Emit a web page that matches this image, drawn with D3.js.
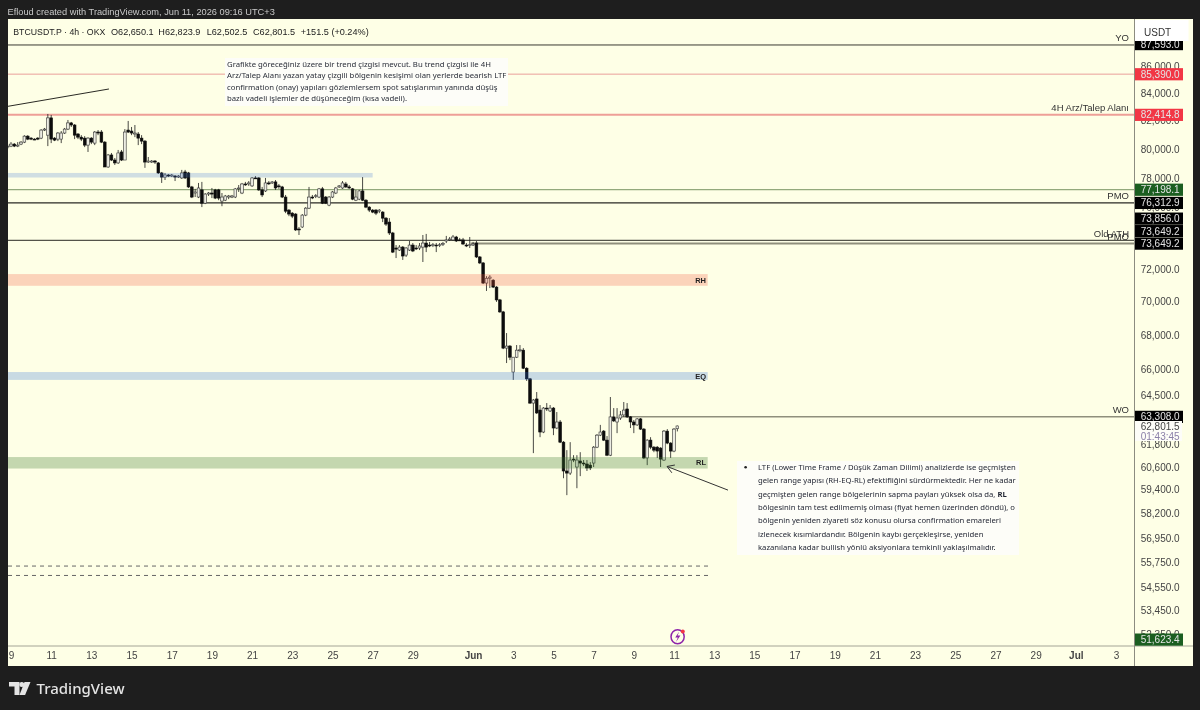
<!DOCTYPE html>
<html><head><meta charset="utf-8">
<script src="https://cdn.jsdelivr.net/npm/d3@7/dist/d3.min.js"></script>
<style>
html,body{margin:0;padding:0;background:#1e1e1e;overflow:hidden}
svg{display:block;filter:blur(0.3px)}
text{font-family:"Liberation Sans",Arial,sans-serif}
</style></head><body><svg id="c" width="1200" height="710"></svg>
<script>
const opens=[80120,80190,80330,80190,80330,80470,80890,80750,80680,80750,80750,81320,80960,82190,80750,80680,80680,81110,81390,81830,81680,81040,80820,80750,80260,80750,80400,81180,81180,80470,78740,79570,79220,79020,79780,79220,81320,81250,81040,81040,80750,80540,79080,79080,79150,79020,78330,78050,78190,78120,78120,78050,77990,78400,78330,77380,76970,76700,77180,76290,76900,76970,77180,77180,76430,76490,76700,76700,76700,77250,76970,77580,77580,77450,77990,77990,77180,77110,77650,77650,77720,77450,77380,76700,75830,75630,75570,74590,74720,75500,75960,76700,76770,76700,77250,76700,76160,76700,76970,77380,77310,77580,77380,77250,76490,76560,77110,76490,76030,75830,75830,75760,75700,75300,75040,74330,73360,73230,73420,72910,73230,73550,73360,73360,73420,73680,73550,73550,73550,73550,73620,73810,73880,73880,74070,73880,73880,73550,73550,73550,73680,72790,72410,71150,71450,71330,70900,70110,69380,67220,67340,65830,66690,67100,67100,66050,65440,64070,64300,63680,62470,63790,63630,63790,62690,63020,61920,60380,60270,61010,60590,60910,60800,60750,60690,60800,61650,62300,62520,62030,61220,63300,63020,63240,63410,63740,63300,63020,62860,63190,62630,61070,62030,61650,61650,61600,60960,62520,61870,61440,62650.1];
const highs=[80330,80470,80400,80470,80540,80960,80960,80820,80750,80820,81390,81470,82470,82400,80820,81180,81250,81470,82040,81900,81750,81110,80960,80890,80820,80820,81250,81320,81320,80540,79640,79710,79360,79920,79920,81390,81970,81540,81680,81180,80960,80610,79430,79220,79220,79080,78400,78330,78260,78260,78190,78190,78540,78540,78400,77450,77250,77650,77720,76970,77040,77310,77250,77250,76970,76840,76840,76840,77310,77510,77650,77720,77780,78050,78120,78050,77380,77990,77780,77780,77850,77580,77450,76840,75900,75700,75630,74720,75570,76030,77380,76840,76900,77310,77380,76770,76770,77110,77380,77510,77780,77720,77510,77310,77180,77180,78050,76560,76090,75900,75900,75900,75760,75370,75300,74400,73550,73550,73490,73420,73810,73680,73550,73680,74200,74270,73750,73680,73680,73680,73750,74140,74070,74200,74140,74010,74010,73680,74070,73750,73810,72850,72470,71580,71640,71390,70960,70170,69440,68110,67400,66690,67400,67400,67220,66110,65490,64300,64690,63960,63850,64070,63960,63850,63570,63130,61980,61490,61920,61220,61220,61380,60960,60960,60850,61710,62360,62860,62580,62250,64410,63790,63790,63630,64130,64070,63350,63130,63240,63240,62690,62080,62190,61710,61710,61650,62580,62630,61920,62690,62823.9];
const lows=[79990,80120,80120,80120,80260,80400,80610,80610,80610,80610,80680,81250,80190,80400,80540,80540,80400,81040,81320,81540,80680,80680,80540,80120,79780,80330,80260,80960,80400,78740,78680,79150,78880,78950,79150,79220,81110,80960,80820,80260,80330,78680,79020,79020,78950,78260,77650,77850,78050,78050,77780,77990,77920,77920,77310,76630,76700,76630,76030,76230,76770,76630,76560,76490,76090,76430,76560,76630,76630,77040,76900,77450,77450,77380,77920,77110,76700,77040,77510,77580,77180,77250,76630,75630,75430,75300,74460,74200,74660,75430,75900,76560,76630,76630,76230,76230,76090,76630,76900,77310,77250,77310,77250,76490,76430,76490,76430,75960,75700,75630,75500,75630,75040,74790,74200,73040,72720,73170,72600,72790,73170,73100,73230,73230,72470,73100,73420,73420,73100,73420,73490,73680,73810,73810,73750,73810,73550,73420,73360,73490,72720,72340,71090,70660,70840,70840,69990,69320,67160,66350,66520,65380,66640,66980,66000,65320,64020,61330,63460,62190,62410,63630,63570,62300,62630,61870,60000,59120,60170,60850,59480,60110,60640,60380,60430,60590,61600,62250,61980,61170,61170,63020,62410,63130,63300,63240,62690,62410,62800,62580,61010,60690,61540,61380,61070,60590,60910,61810,61070,61380,62502.5];
const closes=[80190,80330,80190,80260,80470,80890,80680,80680,80650,80680,81320,81390,82190,80680,80610,81110,81110,81390,81830,81680,80960,80820,80680,80260,80750,80470,81180,81110,80470,78740,79570,79220,79020,79710,79220,81180,81180,81110,81110,80750,80540,79080,79150,79150,79080,78330,78050,78190,78120,78190,78050,78120,78330,77990,77380,76700,77040,77310,76290,76900,76970,76900,76630,76630,76700,76770,76770,76770,77250,77310,77580,77560,77650,77990,77950,77180,76840,77650,77630,77720,77310,77430,76700,75760,75570,75430,74530,74530,75500,75960,76700,76680,76790,77250,76290,76290,76700,77040,77310,77450,77650,77380,77310,76560,76700,77110,76490,76030,75830,75700,75630,75830,75300,74910,74330,73100,73290,73420,72850,73360,73550,73170,73340,73490,73680,73420,73530,73570,73530,73570,73640,73880,73940,74070,73810,73860,73620,73530,73570,73620,72790,72410,71150,71450,71520,70900,70110,69380,67220,67340,66690,66690,67100,67120,66050,65440,64070,64240,63520,62470,63790,63740,63790,62690,63020,61920,60380,60270,60960,60960,60960,60800,60780,60540,60540,61650,62300,62470,62030,61220,63300,63080,63240,63410,63680,63300,63020,62860,63190,62630,61070,62030,61650,61490,61440,61010,62520,61870,61440,62630,62801.5];

const priceTicks=[86000,84000,82000,80000,78000,76000,72000,70000,68000,66000,64500,61800,60600,59400,58200,56950,55750,54550,53450,52350];
const dateTicks=["2026-05-09","2026-05-11","2026-05-13","2026-05-15","2026-05-17","2026-05-19","2026-05-21","2026-05-23","2026-05-25","2026-05-27","2026-05-29","2026-06-01","2026-06-03","2026-06-05","2026-06-07","2026-06-09","2026-06-11","2026-06-13","2026-06-15","2026-06-17","2026-06-19","2026-06-21","2026-06-23","2026-06-25","2026-06-27","2026-06-29","2026-07-01","2026-07-03"];
const dateLabels=["9","11","13","15","17","19","21","23","25","27","29","Jun","3","5","7","9","11","13","15","17","19","21","23","25","27","29","Jul","3"];

const levelPrices=[87593,85390,82414.8,77198.1,76312.9,73856,73649.2,73649.2,63308,51623.4];
const levelLabels=["87,593.0","85,390.0","82,414.8","77,198.1","76,312.9","73,856.0","73,649.2","73,649.2","63,308.0","51,623.4"];
const levelNames=["YO","","4H Arz/Talep Alanı","","PMO","Old ATH","PMO","","WO",""];
const levelStart=["2026-05-08","2026-05-08","2026-05-08","2026-05-08","2026-05-08","2026-05-08","2026-05-31T21:00","2026-05-08","2026-06-08T06:00","2026-05-08"];
const zoneNames=["","RH","EQ","RL"];
const zoneTop=[78330,71710,65830,61120];
const zoneBottom=[78020,70980,65380,60510];
const zoneEnd=["2026-05-27T00:00","2026-06-13T00:00","2026-06-13T00:00","2026-06-13T00:00"];
const dashedPrices=[55570,55115];
const lastPrice="62,801.5", countdown="01:43:45";
const legendParts=["BTCUSDT.P · 4h · OKX","O62,650.1","H62,823.9","L62,502.5","C62,801.5","+151.5 (+0.24%)"];
const note1=["Grafikte göreceğiniz üzere bir trend çizgisi mevcut. Bu trend çizgisi ile 4H","Arz/Talep Alanı yazan yatay çizgili bölgenin kesişimi olan yerlerde bearish LTF","confirmation (onay) yapıları gözlemlersem spot satışlarımın yanında düşüş","bazlı vadeli işlemler de düşüneceğim (kısa vadeli)."];
const note2=["LTF (Lower Time Frame / Düşük Zaman Dilimi) analizlerde ise geçmişten","gelen range yapısı (RH-EQ-RL) efektifliğini sürdürmektedir. Her ne kadar","geçmişten gelen range bölgelerinin sapma payları yüksek olsa da, |RL","bölgesinin tam test edilmemiş olması (fiyat hemen üzerinden döndü), o","bölgenin yeniden ziyareti söz konusu olursa confirmation emareleri","izlenecek kısımlardandır. Bölgenin kaybı gerçekleşirse, yeniden","kazanılana kadar bullish yönlü aksiyonlara temkinli yaklaşılmalıdır."];

const BG="#feffe6", DARK="#1e1e1e";
const NOTE_FONT="'Noto Sans',sans-serif";
const svg=d3.select("#c");
const L=8,R=1134.5,T=19,B=646,FR=1193,FB=666;
const x=d3.scaleUtc().domain([new Date("2026-05-09T00:00Z"),new Date("2026-07-03T00:00Z")]).range([11,1116]);
const y=d3.scaleLog().domain([86000,52350]).range([66,634.4]);
const d=s=>new Date((s.length===10?s+"T00:00":s)+"Z");

svg.append("rect").attr("width",1200).attr("height",710).attr("fill",DARK);
svg.append("rect").attr("x",L).attr("y",T).attr("width",FR-L).attr("height",FB-T).attr("fill",BG);
svg.append("defs").append("clipPath").attr("id","pane").append("rect").attr("x",L).attr("y",T).attr("width",R-L).attr("height",B-T);
const pane=svg.append("g").attr("clip-path","url(#pane)");

// level lines
const lvlStyle=[["#3a3a32",1],["#e99f9b",1],["#ee9f97",2],["#93a97c",1.2],["#2a2a24",1.2],["#2a2a24",1],["#8f8f7c",1.8],["#8f8f7c",0],["#8f8f7c",1.5],["#3a7a3a",0]];
levelPrices.forEach((p,i)=>{
  pane.append("line").attr("x1",x(d(levelStart[i]))).attr("x2",R).attr("y1",y(p)).attr("y2",y(p))
    .attr("stroke",lvlStyle[i][0]).attr("stroke-width",lvlStyle[i][1]);
});

// candles
const start=d3.utcHour.offset(new Date("2026-05-09T00:00Z"),-4);
const candles=pane.append("g");
opens.forEach((o,k)=>{
  const t=d3.utcHour.offset(start,4*k), cx=x(t), c=closes[k], up=c>=o;
  candles.append("line").attr("x1",cx).attr("x2",cx).attr("y1",y(highs[k])).attr("y2",y(lows[k])).attr("stroke","#1c1c1c").attr("stroke-width",0.8);
  const top=y(Math.max(o,c)), h=Math.max(0.9,y(Math.min(o,c))-top);
  candles.append("rect").attr("x",cx-1.35).attr("width",2.7).attr("y",top).attr("height",h)
    .attr("fill",up?"#ecece2":"#0c0c0c").attr("stroke",up?"#333":"#0c0c0c").attr("stroke-width",0.6);
});

// zones
const zoneFill=[["#3f74d6",0.24],["#f2553f",0.26],["#2f6fdc",0.26],["#3f7a32",0.3]];
zoneTop.forEach((t,i)=>{
  pane.append("rect").attr("x",L).attr("width",x(d(zoneEnd[i]))-L-(i?6.5:0)).attr("y",y(t)).attr("height",y(zoneBottom[i])-y(t))
    .attr("fill",zoneFill[i][0]).attr("opacity",zoneFill[i][1]);
  if(zoneNames[i]) pane.append("text").attr("x",706).attr("y",(y(t)+y(zoneBottom[i]))/2+2.6).attr("text-anchor","end")
    .attr("font-size",7.5).attr("font-weight","bold").attr("fill","#222").text(zoneNames[i]);
});

// dashed
dashedPrices.forEach(p=>pane.append("line").attr("x1",L).attr("x2",708).attr("y1",y(p)).attr("y2",y(p))
  .attr("stroke","#666").attr("stroke-width",1).attr("stroke-dasharray","4 4"));

// trend line + arrow (price/time anchored)
const trendA=[new Date("2026-05-08T18:00Z"),83000], trendB=[new Date("2026-05-13T21:00Z"),84290];
pane.append("line").attr("x1",x(trendA[0])).attr("y1",y(trendA[1])).attr("x2",x(trendB[0])).attr("y2",y(trendB[1])).attr("stroke","#2a2a24").attr("stroke-width",1);
const arrA=[new Date("2026-06-13T16:30Z"),59380], arrB=[new Date("2026-06-10T15:40Z"),60620];
const ax=x(arrA[0]),ay=y(arrA[1]),bx=x(arrB[0]),by=y(arrB[1]);
const ang=Math.atan2(ay-by,ax-bx);
pane.append("line").attr("x1",ax).attr("y1",ay).attr("x2",bx).attr("y2",by).attr("stroke","#333").attr("stroke-width",1);
[0.55,-0.55].forEach(a=>pane.append("line").attr("x1",bx).attr("y1",by).attr("x2",bx+8*Math.cos(ang+a)).attr("y2",by+8*Math.sin(ang+a)).attr("stroke","#333").attr("stroke-width",1));

// level names
levelNames.forEach((n,i)=>{
  if(!n) return;
  pane.append("text").attr("x",1129).attr("y",y(levelPrices[i])-(i===5?3.7:i===6?3.5:4)).attr("text-anchor","end").attr("font-size",9.5).attr("fill","#333").text(n);
});

// notes
pane.append("rect").attr("x",225).attr("y",58).attr("width",283).attr("height",48).attr("fill","#fdfdf8");
pane.selectAll(".n1").data(note1).join("text").attr("x",227).attr("y",(s,i)=>66.8+i*11.5).attr("font-size",7.75).attr("fill","#2a2e39").style("font-family",NOTE_FONT).text(s=>s);
pane.append("rect").attr("x",737).attr("y",461).attr("width",282).attr("height",94).attr("fill","#fdfdf8");
pane.append("circle").attr("cx",745.6).attr("cy",467.3).attr("r",1.3).attr("fill","#222");
note2.forEach((s,i)=>{
  const parts=s.split("|");
  const t=pane.append("text").attr("x",758).attr("y",470+i*13.33).attr("font-size",7.7).attr("fill","#1e2230").style("font-family",NOTE_FONT);
  t.append("tspan").text(parts[0]);
  if(parts[1]) t.append("tspan").attr("font-weight","bold").text(parts[1]);
});

// lightning icon
const cy=636.7;
const ic=pane.append("g");
ic.append("ellipse").attr("cx",677.6).attr("cy",cy).attr("rx",6.6).attr("ry",7).attr("fill","none").attr("stroke","#8e24aa").attr("stroke-width",1.5);
ic.append("path").attr("d",`M679.2 631.5 L675.2 637.6 L677.8 637.6 L676 642 L680.4 635.6 L677.6 635.6 Z`).attr("fill","#8e24aa");
ic.append("circle").attr("cx",682.8).attr("cy",631.4).attr("r",2).attr("fill","#f23645");

// price axis
const axisG=svg.append("g").attr("transform",`translate(${R},0)`).call(d3.axisRight(y).tickValues(priceTicks).tickSize(0).tickPadding(6.2).tickFormat(v=>d3.format(",.1f")(v)));
axisG.select(".domain").remove();
axisG.selectAll("text").attr("font-size",10).attr("fill","#444").style("font-family","'Liberation Sans',Arial,sans-serif");

// time axis
const timeG=svg.append("g").attr("transform",`translate(0,${B})`).call(d3.axisBottom(x).tickValues(dateTicks.map(d)).tickSize(0).tickPadding(6).tickFormat((t,i)=>dateLabels[i]));
timeG.select(".domain").remove();
timeG.selectAll("text").attr("font-size",10).attr("fill","#444").style("font-family","'Liberation Sans',Arial,sans-serif")
  .attr("font-weight",(t,i)=>/[A-Za-z]/.test(dateLabels[i])?"bold":"normal");

// separators
svg.append("line").attr("x1",L).attr("x2",FR).attr("y1",B).attr("y2",B).attr("stroke","#a4a496").attr("stroke-width",1);
svg.append("line").attr("x1",R).attr("x2",R).attr("y1",T).attr("y2",FB).attr("stroke","#8c8c80").attr("stroke-width",1);

// price labels with stacking
const lblFill=["#000","#f23645","#f23645","#1b5e20","#000","#000","#000","#000","#000","#1b5e20"];
const ys=levelPrices.map(p=>y(p));
ys[0]=44; ys[9]=639.5;
for(let i=6;i>=5;i--){ ys[i]=Math.min(ys[i],ys[i+1]-12.5); }
const lg=svg.append("g");
levelPrices.forEach((p,i)=>{
  lg.append("rect").attr("x",1135).attr("width",48).attr("y",ys[i]-6).attr("height",12.2).attr("fill",lblFill[i]);
  lg.append("text").attr("x",1140.7).attr("y",ys[i]+3.6).attr("font-size",10).attr("fill","#e4e4e4").text(levelLabels[i]);
});
// last price label
lg.append("rect").attr("x",1135).attr("width",47).attr("y",421).attr("height",20).attr("fill","#fdfdf8");
lg.append("text").attr("x",1140.7).attr("y",429.6).attr("font-size",10).attr("fill","#444").text(lastPrice);
lg.append("text").attr("x",1140.7).attr("y",439.8).attr("font-size",10).attr("fill","#8a7fa8").text(countdown);
// USDT
svg.append("rect").attr("x",1135).attr("y",20).attr("width",53.5).attr("height",21).attr("fill","#ffffff");
svg.append("text").attr("x",1144).attr("y",35.5).attr("font-size",10).attr("fill","#333").text("USDT");

// titles
svg.append("text").attr("x",7.5).attr("y",15).attr("font-size",9.25).attr("fill","#c9c9c9").text("Efloud created with TradingView.com, Jun 11, 2026 09:16 UTC+3");
const legendX=[13.3,111,158.3,206.7,253,300.7];
legendParts.forEach((s,i)=>{
  const t=svg.append("text").attr("x",legendX[i]).attr("y",34.6).attr("font-size",9.15).attr("fill","#222").text(s);
  if(i===0) t.attr("textLength",92).attr("lengthAdjust","spacingAndGlyphs");
});

// footer
const logo=svg.append("g").attr("fill","#e4e4e4");
logo.append("path").attr("d","M9 682h10.5v13h-5v-8.4H9z");
logo.append("circle").attr("cx",21.8).attr("cy",684.6).attr("r",2.5);
logo.append("path").attr("d","M24.5 682h6l-5.4 13h-5.6z");
svg.append("text").attr("x",36.5).attr("y",693.5).attr("font-size",15).attr("fill","#e4e4e4").style("font-family","'Noto Sans',sans-serif").style("font-weight",500).text("TradingView");
</script></body></html>
